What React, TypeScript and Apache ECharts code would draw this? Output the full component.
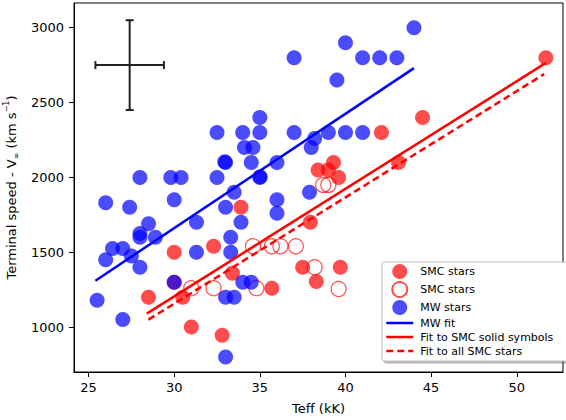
import React, { useEffect, useRef } from "react";
import * as echarts from "echarts";

// ---- data (Teff in kK, terminal speed in km/s) ----
const smcSolid: number[][] = [
  [28.5, 1200], [30, 1500], [30, 1300], [30.5, 1200], [31, 1000], [32.3, 1540],
  [32.8, 945], [33.4, 1360], [33.9, 1800], [35.7, 1260], [37.5, 1400], [37.95, 1700],
  [38.3, 1305], [38.4, 2050], [39, 2050], [39.3, 2100], [39.6, 2000], [39.7, 1400],
  [42.1, 2300], [43.1, 2100], [44.5, 2400], [51.7, 2800],
];
const smcOpen: number[][] = [
  [31, 1260], [32.3, 1260], [34.8, 1260], [34.6, 1540], [35.7, 1540], [36.2, 1540],
  [37.1, 1540], [38.2, 1400], [38.7, 1950], [39, 1950], [39.6, 1255],
];
const mwStars: number[][] = [
  [25.5, 1180], [26, 1450], [26, 1830], [26.4, 1525], [27, 1525], [27, 1050],
  [27.4, 1800], [27.5, 1475], [28, 1400], [28, 1625], [28, 1600], [28, 2000],
  [28.5, 1690], [28.9, 1600], [29.8, 2000], [30, 1850], [30, 1300], [30.4, 2000],
  [31.3, 1700], [31.3, 1500], [32.5, 2300], [32.5, 2000], [33, 1800], [33, 2100],
  [32.95, 2105], [33, 1200], [33, 800], [33.3, 1600], [33.3, 1500], [33.5, 1900],
  [33.5, 1200], [33.9, 1700], [34, 2300], [34, 1300], [34.1, 2200], [34.5, 2100],
  [34.5, 1300], [34.6, 2200], [35, 2400], [35, 2300], [35, 2000], [35.02, 2005],
  [36, 2100], [36, 1850], [36, 1760], [37, 2800], [37, 2300], [37.9, 1900],
  [38, 2200], [38.2, 2260], [39, 2300], [39.5, 2650], [40, 2900], [40, 2300],
  [41, 2800], [41, 2300], [42, 2800], [43, 2800], [44, 3000],
];
const mwFit: number[][] = [[25.4, 1310], [44, 2730]];
const smcSolidFit: number[][] = [[28.4, 1090], [51.7, 2765]];
const smcAllFit: number[][] = [[28.5, 1050], [51.6, 2690]];
// typical error bar: [x, y, xerr, yerr]
const errorBar: number[][] = [[27.4, 2750, 2, 300]];

const xTicks = [25, 30, 35, 40, 45, 50];
const yTicks = [1000, 1500, 2000, 2500, 3000];

const FONT = "DejaVu Sans";

export default function App() {
  const ref = useRef<HTMLDivElement>(null);
  useEffect(() => {
    if (!ref.current) return;
    const chart = echarts.init(ref.current, null, { renderer: "svg" });
    const blue = "rgba(0,0,255,0.7)";
    const red = "rgba(255,0,0,0.7)";
    const hideSym = { opacity: 0 };
    chart.setOption({
      animation: false,
      textStyle: { fontFamily: FONT },
      grid: {
        left: 74, right: 3, top: 3, bottom: 48,
        containLabel: false, outerBoundsMode: "none",
        show: true, borderColor: "#000", borderWidth: 1, backgroundColor: "#fff",
      },
      legend: {
        data: [
          { name: "SMC stars" },
          { name: "SMC stars " },
          { name: "MW stars" },
          { name: "MW fit", itemStyle: hideSym, lineStyle: { color: "#0000ff", width: 2.5, opacity: 1 } },
          { name: "Fit to SMC solid symbols", itemStyle: hideSym, lineStyle: { color: "#ff0000", width: 2.5, opacity: 1 } },
          { name: "Fit to all SMC stars", itemStyle: hideSym, lineStyle: { color: "#ff0000", width: 2.5, type: [7, 4], opacity: 1 } },
        ],
        orient: "vertical",
        left: 382, top: 262,
        padding: [2, 14, 4, 3],
        itemWidth: 27, itemHeight: 15, itemGap: 2,
        backgroundColor: "#fff",
        borderColor: "#bbb", borderWidth: 1, borderRadius: 2,
        shadowColor: "rgba(0,0,0,0.3)", shadowOffsetX: 2, shadowOffsetY: 2, shadowBlur: 0,
        textStyle: { fontFamily: FONT, fontSize: 11, color: "#000", padding: [0, 0, 0, 2] },
        selectedMode: false,
      },
      xAxis: {
        type: "value", min: 24.15, max: 52.7,
        name: "Teff (kK)", nameLocation: "middle", nameGap: 30,
        nameTextStyle: { fontFamily: FONT, fontSize: 13, color: "#000" },
        axisLine: { lineStyle: { color: "#000", width: 1 } },
        axisTick: { show: true, length: 5, lineStyle: { color: "#000" }, customValues: xTicks },
        axisLabel: {
          fontFamily: FONT, fontSize: 13, color: "#000", margin: 9, customValues: xTicks,
          formatter: (v: number) => String(v),
        },
        splitLine: { show: false },
      },
      yAxis: {
        type: "value", min: 700, max: 3165,
        name: "Terminal speed - V{sub|∞} (km s{sup|−1})",
        nameLocation: "middle", nameGap: 41, nameRotate: 90,
        nameTextStyle: {
          fontFamily: FONT, fontSize: 13, color: "#000", lineHeight: 18,
          rich: {
            sub: { fontFamily: FONT, fontSize: 8, color: "#000", verticalAlign: "bottom", lineHeight: 18 },
            sup: { fontFamily: FONT, fontSize: 8, color: "#000", verticalAlign: "top", lineHeight: 18 },
          },
        },
        axisLine: { show: true, lineStyle: { color: "#000", width: 1 } },
        axisTick: { show: true, length: 5, lineStyle: { color: "#000" }, customValues: yTicks },
        axisLabel: {
          fontFamily: FONT, fontSize: 13, color: "#000", margin: 10, customValues: yTicks,
          formatter: (v: number) => String(v),
        },
        splitLine: { show: false },
      },
      series: [
        {
          name: "SMC stars", type: "scatter", data: smcSolid, symbolSize: 15, z: 2,
          itemStyle: { color: red, opacity: 1 },
        },
        {
          name: "SMC stars ", type: "scatter", data: smcOpen, symbolSize: 15, z: 2,
          itemStyle: { color: "rgba(255,255,255,0)", borderColor: red, borderWidth: 1.2, opacity: 1 },
        },
        {
          name: "MW stars", type: "scatter", data: mwStars, symbolSize: 15, z: 2,
          itemStyle: { color: blue, opacity: 1 },
        },
        {
          name: "MW fit", type: "line", data: mwFit, symbol: "none", z: 3,
          lineStyle: { color: "#0000ff", width: 2.5 }, itemStyle: { color: "#0000ff" },
        },
        {
          name: "Fit to SMC solid symbols", type: "line", data: smcSolidFit, symbol: "none", z: 3,
          lineStyle: { color: "#ff0000", width: 2.5 }, itemStyle: { color: "#ff0000" },
        },
        {
          name: "Fit to all SMC stars", type: "line", data: smcAllFit, symbol: "none", z: 3,
          lineStyle: { color: "#ff0000", width: 2.5, type: [7, 4] }, itemStyle: { color: "#ff0000" },
        },
        {
          name: "errorbar", type: "custom", data: errorBar, z: 3,
          renderItem: (_p: any, api: any) => {
            const x = api.value(0), y = api.value(1), dx = api.value(2), dy = api.value(3);
            const l = api.coord([x - dx, y]);
            const r = api.coord([x + dx, y]);
            const t = api.coord([x, y + dy]);
            const b = api.coord([x, y - dy]);
            const c = 4;
            const st = { stroke: "#222", lineWidth: 2 };
            const ln = (x1: number, y1: number, x2: number, y2: number) => ({
              type: "line", shape: { x1, y1, x2, y2 }, style: st,
            });
            return {
              type: "group",
              children: [
                ln(l[0], l[1], r[0], r[1]),
                ln(t[0], t[1], b[0], b[1]),
                ln(l[0], l[1] - c, l[0], l[1] + c),
                ln(r[0], r[1] - c, r[0], r[1] + c),
                ln(t[0] - c, t[1], t[0] + c, t[1]),
                ln(b[0] - c, b[1], b[0] + c, b[1]),
              ],
            };
          },
        },
      ],
    });
    return () => chart.dispose();
  }, []);
  return (
    <div
      ref={ref}
      style={{ position: "absolute", left: 0, top: 0, width: 566, height: 420, background: "#fff" }}
    />
  );
}
